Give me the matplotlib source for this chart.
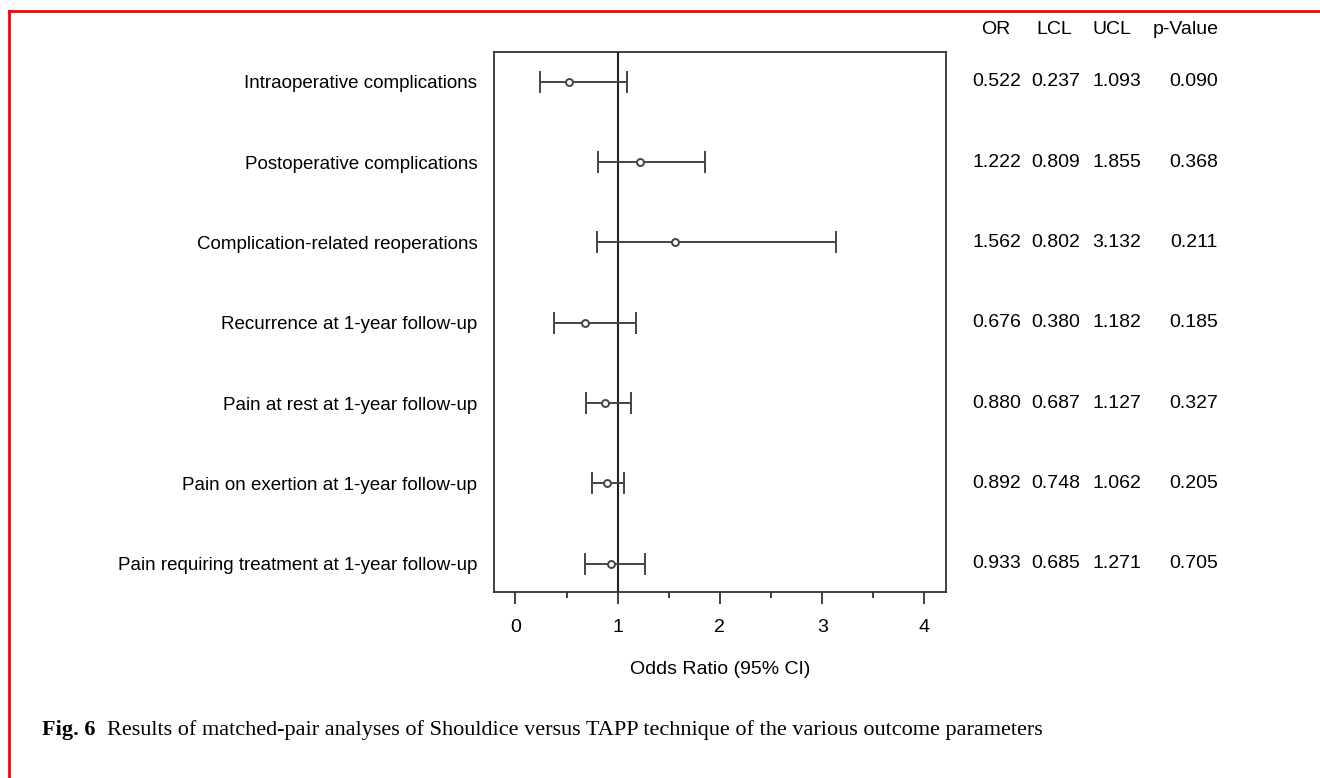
# Forest plot of matched-pair analyses, Shouldice vs TAPP.

import matplotlib.pyplot as plt
import matplotlib.transforms as mtransforms
from matplotlib.lines import Line2D

outcomes = ['Intraoperative complications', 'Postoperative complications',
            'Complication-related reoperations', 'Recurrence at 1-year follow-up',
            'Pain at rest at 1-year follow-up', 'Pain on exertion at 1-year follow-up',
            'Pain requiring treatment at 1-year follow-up']
odds_ratio = [0.522, 1.222, 1.562, 0.676, 0.880, 0.892, 0.933]
lcl = [0.237, 0.809, 0.802, 0.380, 0.687, 0.748, 0.685]
ucl = [1.093, 1.855, 3.132, 1.182, 1.127, 1.062, 1.271]
p_value = [0.090, 0.368, 0.211, 0.185, 0.327, 0.205, 0.705]
col_headers = ['OR', 'LCL', 'UCL', 'p-Value']
x_ticks = [0, 1, 2, 3, 4]


def forest_plot():
    plt.rcParams['font.family'] = ['Liberation Sans', 'DejaVu Sans']
    fig = plt.figure(figsize=(13.2, 7.78), dpi=100)
    ax = fig.add_axes([0.3742, 0.2391, 0.3424, 0.6941])

    rows = list(range(1, len(outcomes) + 1))
    err_lo = [o - l for o, l in zip(odds_ratio, lcl)]
    err_hi = [u - o for o, u in zip(odds_ratio, ucl)]
    ax.errorbar(odds_ratio, rows, xerr=[err_lo, err_hi], fmt='o', color='#444444',
                ecolor='#444444', elinewidth=1.4, capsize=8, capthick=1.4,
                markersize=5, markerfacecolor='white', markeredgecolor='#444444',
                markeredgewidth=1.4, zorder=3)
    ax.axvline(1, color='#222222', lw=1.5, zorder=2)

    ax.set_xlim(-0.21, 4.21)
    ax.set_ylim(7.35, 0.63)
    ax.set_xticks(x_ticks)
    ax.set_xticks([0.5, 1.5, 2.5, 3.5], minor=True)
    ax.tick_params(axis='x', which='major', length=8.5, width=1.3, pad=11,
                   labelsize=14, colors='#333333', labelcolor='black')
    ax.tick_params(axis='x', which='minor', length=4.5, width=1.3, colors='#333333')
    ax.set_yticks(rows)
    ax.set_yticklabels(outcomes, fontsize=13.5)
    ax.tick_params(axis='y', length=0, pad=12)
    ax.set_xlabel('Odds Ratio (95% CI)', fontsize=14, labelpad=18)
    for s in ax.spines.values():
        s.set_color('#333333')
        s.set_linewidth(1.3)

    # table of values on the right
    trans = mtransforms.blended_transform_factory(fig.transFigure, ax.transData)
    head_x = [996, 1054, 1112, 1186]
    val_x = [997, 1056, 1117, 1194]
    for hx, h in zip(head_x, col_headers):
        fig.text(hx / 1320, 1 - 30 / 778, h, ha='center', va='center', fontsize=14)
    for r, o, l, u, p in zip(rows, odds_ratio, lcl, ucl, p_value):
        for vx, v in zip(val_x, [o, l, u, p]):
            ax.text(vx / 1320, r, f'{v:.3f}', transform=trans, ha='center',
                    va='center', fontsize=14)

    # caption
    fig.text(42 / 1320, 1 - 730 / 778, 'Fig. 6', fontsize=16, fontweight='bold',
             family='Liberation Serif', va='center')
    fig.text(107 / 1320, 1 - 730 / 778,
             'Results of matched-pair analyses of Shouldice versus TAPP technique '
             'of the various outcome parameters',
             fontsize=16, family='Liberation Serif', va='center')

    # red frame, top and left
    fig.add_artist(Line2D([9 / 1320, 1], [1 - 11 / 778] * 2, color='red', lw=2,
                          transform=fig.transFigure))
    fig.add_artist(Line2D([9 / 1320] * 2, [0, 1 - 11 / 778], color='red', lw=2,
                          transform=fig.transFigure))

    fig.savefig('out.png', dpi=100)


def main():
    forest_plot()


if __name__ == "__main__":
    main()
